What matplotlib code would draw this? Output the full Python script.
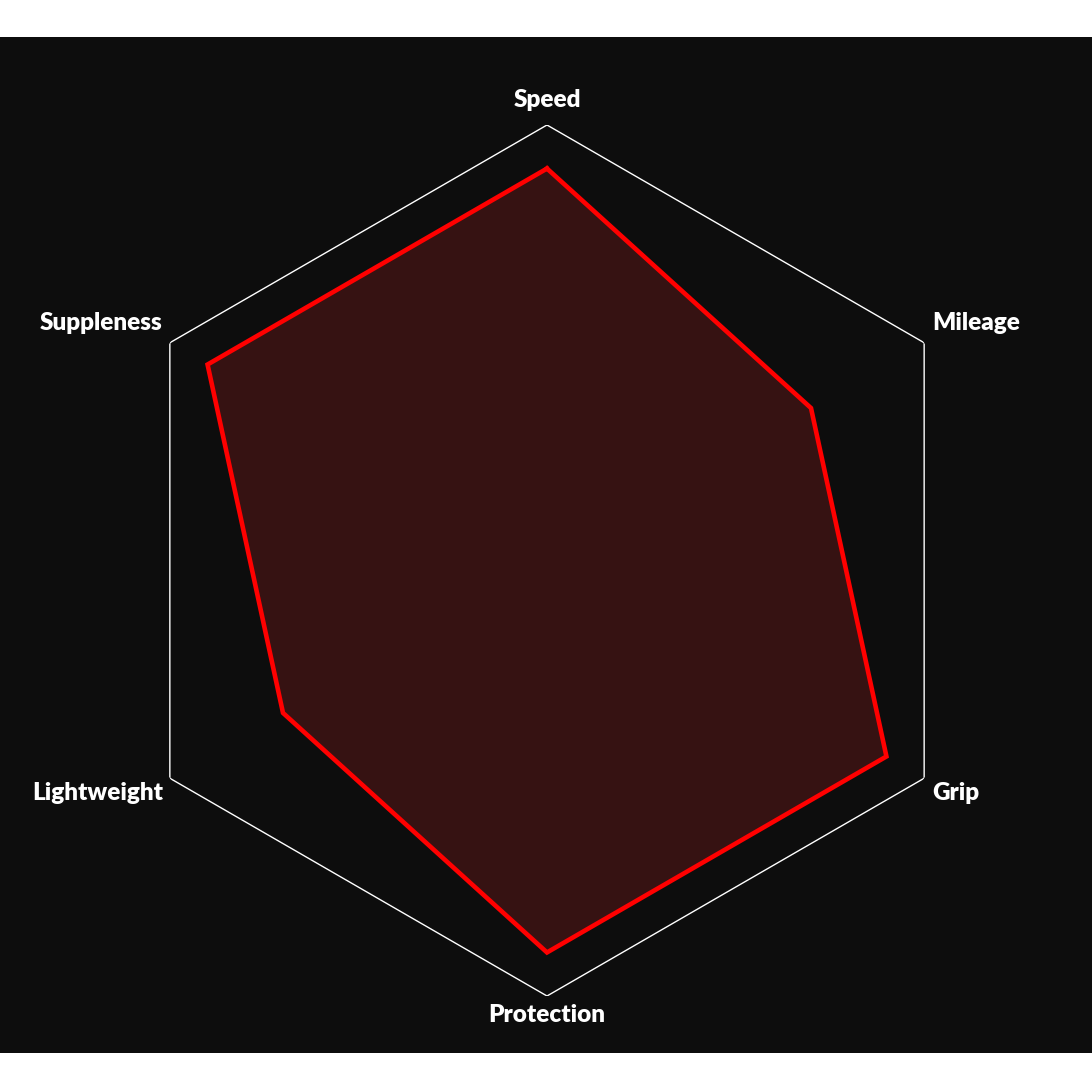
import matplotlib
matplotlib.use("Agg")
import matplotlib.pyplot as plt
import numpy as np
from matplotlib.patches import Rectangle

# radar data (score out of 10)
categories = ["Speed", "Mileage", "Grip", "Protection", "Lightweight", "Suppleness"]
values = [9, 7, 9, 9, 7, 9]
max_value = 10

# label offsets in pixels (dx, dy, ha)
label_offsets = [(0, 25, "center"), (8, 20, "left"), (8, -15, "left"),
                 (0, -19, "center"), (-7, -15, "right"), (-7, 20, "right")]

W = 1092
fig = plt.figure(figsize=(W / 100, W / 100), dpi=100, facecolor="white")
# dark panel behind the chart
fig.patches.append(Rectangle((0, 39 / W), 1, 1016 / W, transform=fig.transFigure,
                             facecolor="#0d0d0d", edgecolor="none", zorder=-10))

cx, cy, R = 547, 560.5, 435.5
ax = fig.add_axes([(cx - R) / W, (W - cy - R) / W, 2 * R / W, 2 * R / W], polar=True)
ax.set_facecolor("none")
ax.set_theta_offset(np.pi / 2)
ax.set_theta_direction(-1)
ax.set_ylim(0, max_value)
ax.grid(False)
ax.spines["polar"].set_visible(False)
ax.set_xticks([])
ax.set_yticks([])

angles = np.linspace(0, 2 * np.pi, len(categories), endpoint=False)
ang_closed = np.append(angles, angles[0])

# outer hexagon
outer = [max_value] * (len(categories) + 1)
ax.plot(ang_closed, outer, color="white", lw=1.0, zorder=2)

vals = np.append(values, values[0])
ax.fill(ang_closed, vals, color="#361212", zorder=3)
ax.plot(ang_closed, vals, color="#ff0000", lw=3.3, zorder=4, solid_joinstyle="miter")

for a, name, (dx, dy, ha) in zip(angles, categories, label_offsets):
    ax.annotate(name, xy=(a, max_value), xytext=(dx * 0.72, dy * 0.72),
                textcoords="offset points", ha=ha, va="center",
                color="white", fontsize=17.5, fontweight="heavy", family="Lato",
                annotation_clip=False)

fig.savefig("out.png", dpi=100, facecolor=fig.get_facecolor())
